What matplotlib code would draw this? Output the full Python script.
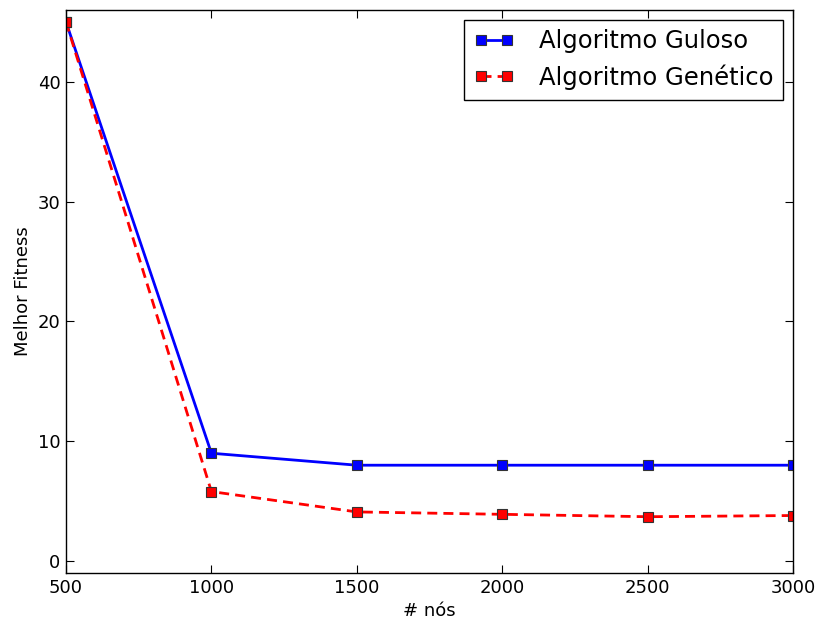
import matplotlib

matplotlib.use("Agg")
import matplotlib.pyplot as plt

# number of nodes vs best fitness found
nodes = [500, 1000, 1500, 2000, 2500, 3000]
greedy_fitness = [45, 9, 8, 8, 8, 8]
genetic_fitness = [45, 5.8, 4.1, 3.9, 3.7, 3.8]

x_ticks = [500, 1000, 1500, 2000, 2500, 3000]
y_ticks = [0, 10, 20, 30, 40]


def main() -> None:
    fig = plt.figure(figsize=(8.19, 6.24), dpi=100)
    ax = fig.add_axes([0.0806, 0.0817, 0.8877, 0.9023])

    ax.plot(nodes, greedy_fitness, "bs-", lw=2, ms=7.5, mec="#333333", mew=0.8,
            label="Algoritmo Guloso")
    ax.plot(nodes, genetic_fitness, "rs--", lw=2, ms=7.5, mec="#333333", mew=0.8,
            label="Algoritmo Genético", dashes=(3.6, 2.2))

    ax.set_xlim(500, 3000)
    ax.set_ylim(-1, 46)
    ax.set_xticks(x_ticks)
    ax.set_yticks(y_ticks)
    ax.tick_params(direction="in", top=True, right=True, length=6, width=0.8,
                   labelsize=13, pad=4)
    for side in ax.spines.values():
        side.set_linewidth(1.0)

    ax.set_xlabel("# nós", fontsize=13)
    ax.set_ylabel("Melhor Fitness", fontsize=13)

    leg = ax.legend(loc="upper right", fontsize=17.5, fancybox=False,
                    edgecolor="black", framealpha=1, numpoints=2,
                    handlelength=1.7, handletextpad=1.0, labelspacing=0.45,
                    borderaxespad=0.4)
    leg.get_frame().set_linewidth(1.0)

    fig.savefig("out.png", dpi=100)


if __name__ == "__main__":
    main()
